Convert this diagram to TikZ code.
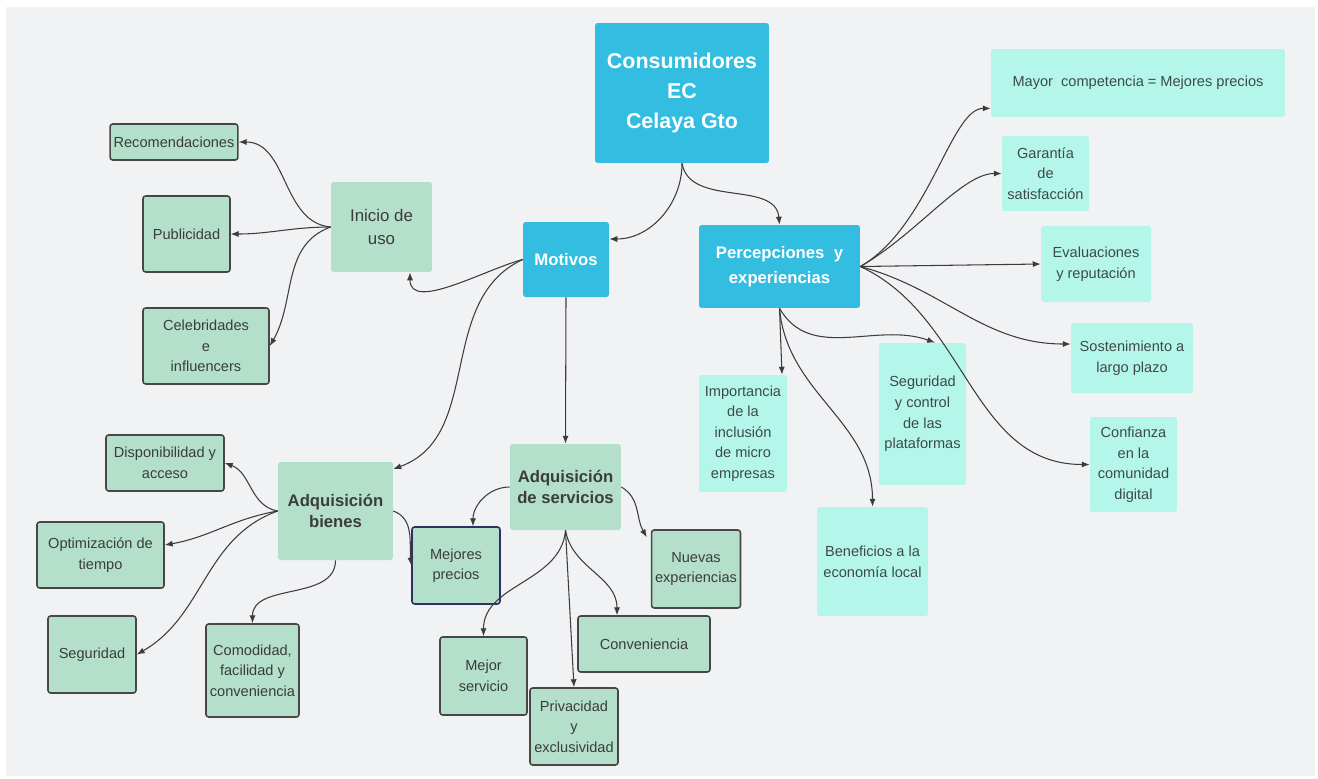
\documentclass[tikz,border=0pt]{standalone}
\usepackage{fontspec}
\setmainfont{Liberation Sans}
\usepackage{xcolor}
\usetikzlibrary{positioning, arrows.meta}

\definecolor{panel}{HTML}{F1F2F4}
\definecolor{hubcyan}{HTML}{33BDE0}
\definecolor{topicgreen}{HTML}{B4DFCB}
\definecolor{mintbox}{HTML}{B4F7EA}
\definecolor{boxline}{HTML}{474747}
\definecolor{navyline}{HTML}{2C3262}
\definecolor{linkgray}{HTML}{3C3C3C}
\definecolor{textgray}{HTML}{3A3D3C}
\definecolor{minttext}{HTML}{3E4A47}

\tikzset{
  hub/.style={fill=hubcyan, rounded corners=1.5pt, text=white, align=center, inner sep=2pt,
    font=\bfseries\fontsize{9.5}{14}\selectfont},
  topic/.style={fill=topicgreen, rounded corners=1.5pt, text=textgray, align=center, inner sep=2pt,
    font=\bfseries\fontsize{9.5}{12}\selectfont},
  leaf/.style={draw=boxline, line width=0.9pt, fill=topicgreen, rounded corners=1.5pt, text=textgray,
    align=center, inner sep=2pt, font=\fontsize{8.3}{11.7}\selectfont},
  mint/.style={fill=mintbox, rounded corners=1.5pt, text=minttext, align=center, inner sep=2pt,
    font=\fontsize{8.3}{11.7}\selectfont},
  link/.style={draw=linkgray, line width=0.6pt, -{Latex[length=4.5pt,width=3.5pt]}}
}

\begin{document}
\begin{tikzpicture}[x=0.02cm, y=-0.02cm]
  \fill[white] (0,0) rectangle (1318,778);
  \fill[panel] (6,7) rectangle (1315,776);
  \useasboundingbox (0,0) rectangle (1318,778);

  % centre
  \node[hub, font=\bfseries\fontsize{12.2}{17}\selectfont, minimum width=3.48cm, minimum height=2.8cm] (root) at (682,93) {Consumidores\\EC\\Celaya Gto};
  \node[hub, minimum width=1.72cm, minimum height=1.5cm] (motivos) at (566,259.5) {Motivos};
  \node[hub, minimum width=3.22cm, minimum height=1.66cm] (percep) at (779.5,266.5) {Percepciones\ \ y\\experiencias};

  % motivos
  \node[topic, font=\fontsize{9.6}{13}\selectfont, minimum width=2.02cm, minimum height=1.8cm] (inicio) at (381.5,227) {Inicio de\\uso};
  \node[leaf, minimum width=2.52cm, minimum height=0.72cm] (recom) at (174,142) {Recomendaciones};
  \node[leaf, minimum width=1.74cm, minimum height=1.52cm] (publi) at (186.5,234) {Publicidad};
  \node[leaf, minimum width=2.52cm, minimum height=1.52cm] (celeb) at (206,346) {Celebridades\\e\\influencers};

  \node[topic, minimum width=2.30cm, minimum height=1.96cm] (bienes) at (335.5,511) {Adquisición\\bienes};
  \node[leaf, minimum width=2.36cm, minimum height=1.12cm] (dispon) at (165,463) {Disponibilidad y\\acceso};
  \node[leaf, minimum width=2.54cm, minimum height=1.32cm] (optim) at (100.5,555) {Optimización de\\tiempo};
  \node[leaf, minimum width=1.76cm, minimum height=1.54cm] (segur) at (92,654.5) {Seguridad};
  \node[leaf, minimum width=1.86cm, minimum height=1.86cm] (comod) at (252.5,670.5) {Comodidad,\\facilidad y\\conveniencia};

  \node[topic, minimum width=2.22cm, minimum height=1.72cm] (servicios) at (565.5,487) {Adquisición\\de servicios};
  \node[leaf, draw=navyline, minimum width=1.76cm, minimum height=1.54cm] (mejprec) at (456,565.5) {Mejores\\precios};
  \node[leaf, minimum width=1.76cm, minimum height=1.56cm] (nuevas) at (696,569) {Nuevas\\experiencias};
  \node[leaf, minimum width=1.74cm, minimum height=1.56cm] (mejserv) at (483.5,676) {Mejor\\servicio};
  \node[leaf, minimum width=2.64cm, minimum height=1.12cm] (conven) at (644,644) {Conveniencia};
  \node[leaf, minimum width=1.76cm, minimum height=1.54cm] (privac) at (574,726.5) {Privacidad\\y\\exclusividad};

  % percepciones
  \node[mint, minimum width=5.88cm, minimum height=1.36cm] (mayor) at (1138,83) {Mayor\ \ competencia = Mejores precios};
  \node[mint, minimum width=1.74cm, minimum height=1.50cm] (garant) at (1045.5,173.5) {Garantía\\de\\satisfacción};
  \node[mint, minimum width=2.20cm, minimum height=1.52cm] (evalua) at (1096,264) {Evaluaciones\\y reputación};
  \node[mint, minimum width=2.44cm, minimum height=1.40cm] (sosten) at (1132,358) {Sostenimiento a\\largo plazo};
  \node[mint, minimum width=1.74cm, minimum height=1.90cm] (confia) at (1133.5,464.5) {Confianza\\en la\\comunidad\\digital};
  \node[mint, minimum width=1.76cm, minimum height=2.34cm] (import) at (743,433.5) {Importancia\\de la\\inclusión\\de micro\\empresas};
  \node[mint, minimum width=1.74cm, minimum height=2.84cm] (segctrl) at (922.5,414) {Seguridad\\y control\\de las\\plataformas};
  \node[mint, minimum width=2.22cm, minimum height=2.18cm] (benef) at (872.5,561.5) {Beneficios a la\\economía local};

  \draw[link] (root.south) to[out=-90, in=0] ([yshift=0.41cm]motivos.east);
  \draw[link] (root.south) to[out=-80, in=95] (percep.north);
  \draw[link] (motivos.west) to[out=195, in=-90, looseness=0.9] ([xshift=0.57cm]inicio.south);
  \draw[link] (motivos.west) to[out=205, in=20] ([yshift=0.84cm]bienes.east);
  \draw[link] (motivos.south) -- (servicios.north);

  \draw[link] (inicio.west) to[out=175, in=0] (recom.east);
  \draw[link] (inicio.west) to[out=180, in=0] (publi.east);
  \draw[link] (inicio.west) to[out=200, in=60] (celeb.east);

  \draw[link] (bienes.west) to[out=170, in=-20] (dispon.east);
  \draw[link] (bienes.west) to[out=190, in=10] ([yshift=0.2cm]optim.east);
  \draw[link] (bienes.west) to[out=200, in=30] (segur.east);
  \draw[link] (bienes.south) to[out=-90, in=90] (comod.north);
  \draw[link] (bienes.east) to[out=-20, in=95] (mejprec.west);

  \draw[link] (servicios.west) to[out=180, in=90] ([xshift=0.34cm]mejprec.north);
  \draw[link] (servicios.east) to[out=-30, in=120] ([xshift=-0.08cm, yshift=-0.16cm]nuevas.north west);
  \draw[link] (servicios.south) to[out=-95, in=90] (mejserv.north);
  \draw[link] (servicios.south) -- (privac.north);
  \draw[link] (servicios.south) to[out=-80, in=90] ([xshift=-0.54cm]conven.north);

  \draw[link] (percep.east) to[out=30, in=180, in looseness=0.5] ([yshift=0.18cm]mayor.south west);
  \draw[link] (percep.east) to[out=30, in=180, in looseness=0.6] (garant.west);
  \draw[link] (percep.east) -- (evalua.west);
  \draw[link] (percep.east) to[out=-15, in=180] ([yshift=0.28cm]sosten.west);
  \draw[link] (percep.east) to[out=-25, in=180] (confia.west);
  \draw[link] (percep.south) -- ([xshift=0.78cm]import.north);
  \draw[link] (percep.south) to[out=-60, in=160] ([xshift=0.25cm]segctrl.north);
  \draw[link] (percep.south) to[out=-85, in=90] (benef.north);
\end{tikzpicture}
\end{document}
